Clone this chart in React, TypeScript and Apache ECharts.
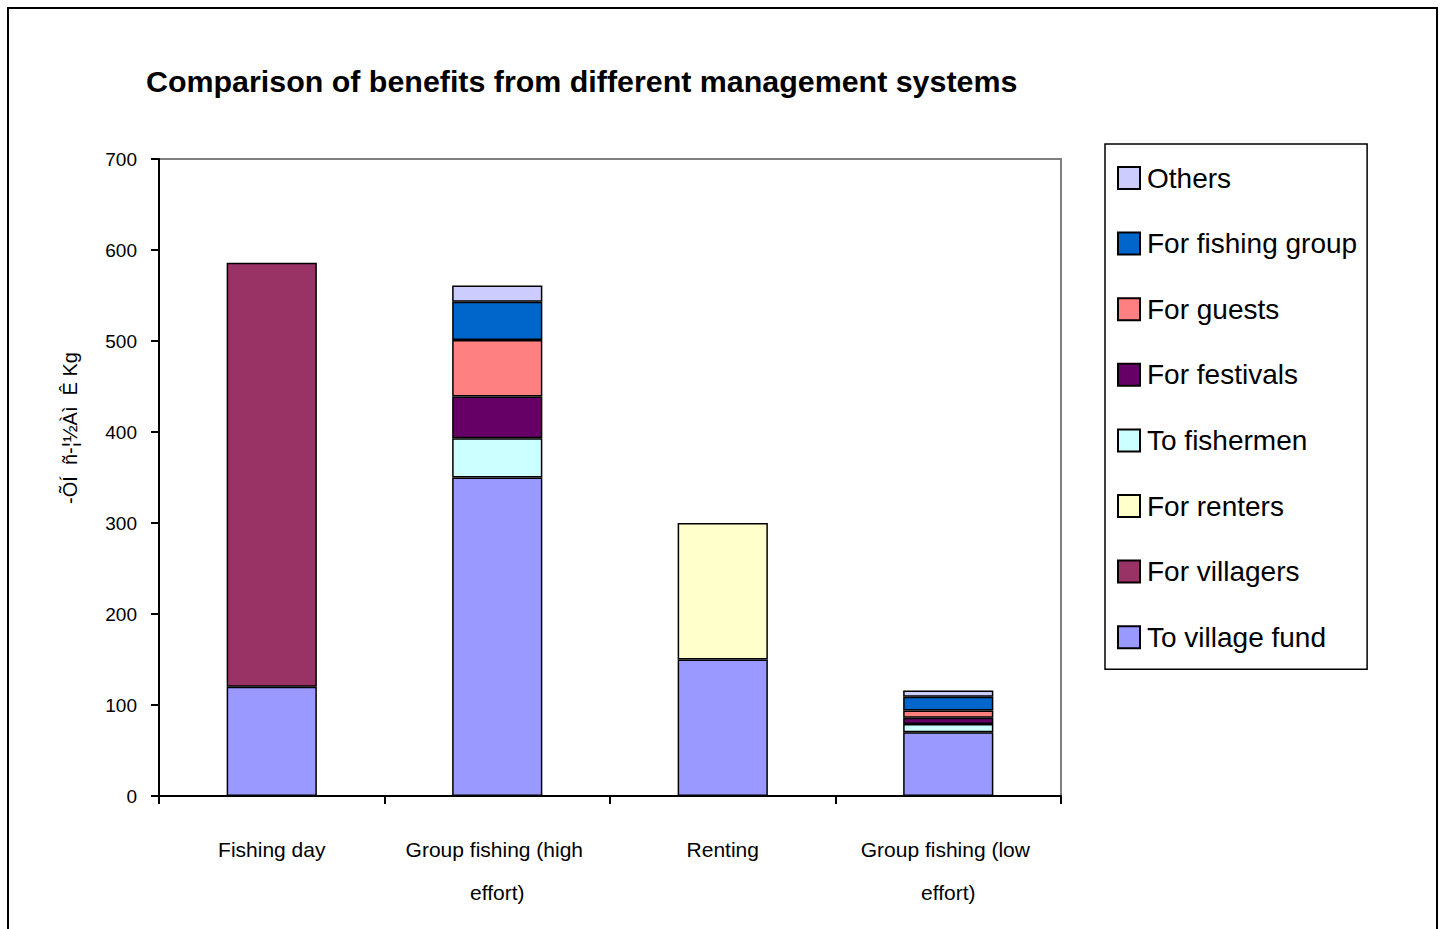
import React, { useEffect, useRef } from "react";
import * as echarts from "echarts";

const categories = ["Fishing day", "Group fishing (high effort)", "Renting", "Group fishing (low effort)"];
const seriesNames = [
  "To village fund",
  "For villagers",
  "For renters",
  "To fishermen",
  "For festivals",
  "For guests",
  "For fishing group",
  "Others",
];
const toVillageFund = [120, 350, 150, 70];
const forVillagers = [466, 0, 0, 0];
const forRenters = [0, 0, 150, 0];
const toFishermen = [0, 43, 0, 9];
const forFestivals = [0, 46, 0, 7];
const forGuests = [0, 62, 0, 8];
const forFishingGroup = [0, 42, 0, 15];
const others = [0, 18, 0, 7];
const seriesValues = [toVillageFund, forVillagers, forRenters, toFishermen, forFestivals, forGuests, forFishingGroup, others];
const seriesColors = ["#9999FF", "#993366", "#FFFFCC", "#CCFFFF", "#660066", "#FF8080", "#0066CC", "#CCCCFF"];
const yTicks = [0, 100, 200, 300, 400, 500, 600, 700];

const FONT = "'Liberation Sans', Arial, sans-serif";

export default function App() {
  const ref = useRef<HTMLDivElement>(null);
  useEffect(() => {
    const chart = echarts.init(ref.current!, null, { renderer: "svg" });
    chart.setOption({
      animation: false,
      backgroundColor: "#ffffff",
      title: {
        text: "Comparison of benefits from different management systems",
        left: 146,
        top: 66,
        padding: 0,
        textStyle: { fontFamily: FONT, fontSize: 30.4, fontWeight: "bold", color: "#000" },
      },
      legend: {
        orient: "vertical",
        left: 1105,
        top: 144,
        data: seriesNames.slice().reverse(),
        itemWidth: 22,
        itemHeight: 22,
        itemGap: 37.6,
        icon: "rect",
        padding: [20, 10, 18, 12],
        borderColor: "#000",
        borderWidth: 1.5,
        textStyle: { fontFamily: FONT, fontSize: 28, color: "#000", padding: [0, 0, 0, 2] },
      },
      grid: {
        left: 159,
        top: 159,
        width: 902,
        height: 637,
        show: true,
        borderColor: "#808080",
        borderWidth: 2,
        backgroundColor: "transparent",
      },
      xAxis: {
        type: "category",
        data: categories,
        axisLine: { lineStyle: { color: "#000", width: 2 } },
        axisTick: { show: true, length: 8, lineStyle: { color: "#000", width: 2 } },
        axisLabel: {
          fontFamily: FONT,
          fontSize: 21,
          color: "#000",
          lineHeight: 43,
          margin: 32,
          width: 205,
          overflow: "break",
          interval: 0,
        },
      },
      yAxis: {
        type: "value",
        min: 0,
        max: yTicks[yTicks.length - 1],
        interval: 100,
        axisLine: { show: true, lineStyle: { color: "#000", width: 2 } },
        axisTick: { show: true, length: 8, lineStyle: { color: "#000", width: 2 } },
        splitLine: { show: false },
        axisLabel: { fontFamily: FONT, fontSize: 19, color: "#000", margin: 22, padding: [0, 0, 6, 0] },
      },
      series: seriesNames.map((name, i) => ({
        name,
        type: "bar",
        stack: "total",
        barWidth: "40%",
        data: seriesValues[i].map((v) => (v === 0 ? null : v)),
        itemStyle: { color: seriesColors[i], borderColor: "#000", borderWidth: 1.5 },
      })),
      graphic: [
        {
          type: "rect",
          shape: { x: 8, y: 8, width: 1429, height: 940 },
          style: { fill: "none", stroke: "#000", lineWidth: 2 },
          silent: true,
        },
        {
          type: "text",
          x: 70,
          y: 428,
          rotation: Math.PI / 2,
          style: {
            text: "-ÕÍ  ñ-¦½Àì  Ê Kg",
            fontFamily: FONT,
            fontSize: 20,
            fill: "#000",
            align: "center",
            verticalAlign: "middle",
          },
        },
      ],
    });
    return () => chart.dispose();
  }, []);
  return <div ref={ref} style={{ position: "fixed", left: 0, top: 0, width: 1442, height: 929 }} />;
}
